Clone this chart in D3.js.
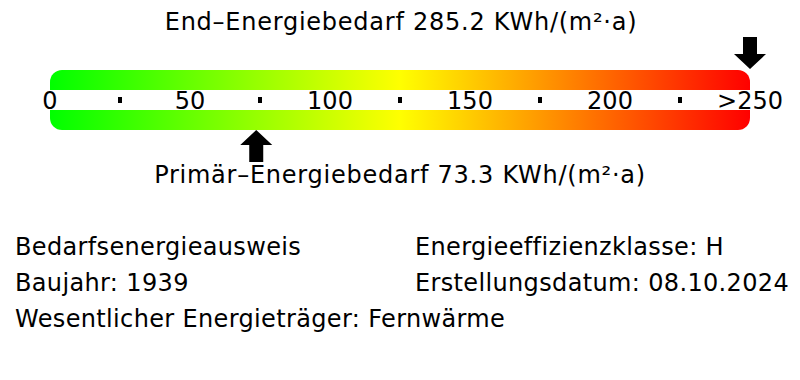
<!DOCTYPE html>
<html lang="de">
<head>
    <meta charset="UTF-8">
    <title>Energieausweis</title>
    <script src="https://d3js.org/d3.v7.min.js"></script>
    <style>
        body { margin: 0; background: #fff; }
        text { font-family: "DejaVu Sans", sans-serif; fill: #000; }
    </style>
</head>
<body>
    <svg id="chart"></svg>
    <script>
        const tickValues = [0, 50, 100, 150, 200, 250];
        const tickLabels = ["0", "50", "100", "150", "200", ">250"];
        const minorTicks = [25, 75, 125, 175, 225];
        const endEnergy = 285.2;
        const primaryEnergy = 73.3;
        const infoLeft = ["Bedarfsenergieausweis", "Baujahr: 1939", "Wesentlicher Energieträger: Fernwärme"];
        const infoRight = ["Energieeffizienzklasse: H", "Erstellungsdatum: 08.10.2024"];

        const width = 800, height = 380;
        const svg = d3.select("#chart").attr("width", width).attr("height", height);

        const x = d3.scaleLinear().domain([0, 250]).range([50, 750]).clamp(true);
        const barTop = 70, barBottom = 130;

        const grad = svg.append("defs").append("linearGradient").attr("id", "scale-grad")
            .attr("x1", "0%").attr("x2", "100%").attr("y1", "0%").attr("y2", "0%");
        grad.append("stop").attr("offset", "0%").attr("stop-color", "#00ff00");
        grad.append("stop").attr("offset", "50%").attr("stop-color", "#ffff00");
        grad.append("stop").attr("offset", "100%").attr("stop-color", "#ff0000");

        svg.append("rect")
            .attr("x", x(0)).attr("y", barTop)
            .attr("width", x(250) - x(0)).attr("height", barBottom - barTop)
            .attr("rx", 12).attr("fill", "url(#scale-grad)");

        // white band for the labels
        svg.append("rect")
            .attr("x", x(0)).attr("y", 90)
            .attr("width", x(250) - x(0)).attr("height", 20)
            .attr("fill", "#fff");

        svg.append("g").selectAll("text").data(tickValues).join("text")
            .attr("x", d => x(d)).attr("y", 108.5)
            .attr("text-anchor", "middle").attr("font-size", 24)
            .text((d, i) => tickLabels[i]);

        svg.append("g").selectAll("rect").data(minorTicks).join("rect")
            .attr("x", d => x(d) - 2).attr("y", 97)
            .attr("width", 4).attr("height", 6).attr("fill", "#000");

        // arrows
        function arrowPath(tipX, tipY, dir) {
            const headW = 16, shaftW = 7, headH = 15, len = 32;
            const p = [
                [0, 0], [-headW, headH], [-shaftW, headH], [-shaftW, len],
                [shaftW, len], [shaftW, headH], [headW, headH]
            ];
            return "M" + p.map(([dx, dy]) => [tipX + dx, tipY + dir * dy].join(",")).join("L") + "Z";
        }

        svg.append("path").attr("d", arrowPath(x(endEnergy), 69, -1)).attr("fill", "#000");
        svg.append("path").attr("d", arrowPath(x(primaryEnergy) + 1, 130, 1)).attr("fill", "#000");

        svg.append("text").attr("x", 401).attr("y", 30)
            .attr("text-anchor", "middle").attr("font-size", 24).attr("letter-spacing", 0.75)
            .text(`End–Energiebedarf ${endEnergy} KWh/(m²·a)`);

        svg.append("text").attr("x", 400).attr("y", 183)
            .attr("text-anchor", "middle").attr("font-size", 24).attr("letter-spacing", 0.75)
            .text(`Primär–Energiebedarf ${primaryEnergy} KWh/(m²·a)`);

        svg.append("g").selectAll("text").data(infoLeft).join("text")
            .attr("x", 15).attr("y", (d, i) => 255 + i * 36)
            .attr("font-size", 24).attr("letter-spacing", 0.35).text(d => d);

        svg.append("g").selectAll("text").data(infoRight).join("text")
            .attr("x", 415).attr("y", (d, i) => 255 + i * 36)
            .attr("font-size", 24).attr("letter-spacing", 0.35).text(d => d);
    </script>
</body>
</html>
